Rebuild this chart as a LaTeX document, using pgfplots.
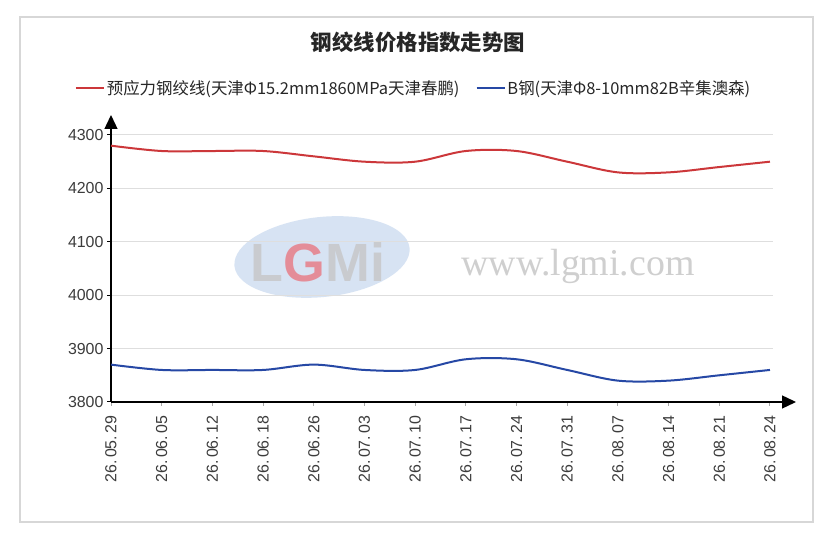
\documentclass[border=0pt]{standalone}
\usepackage{fontspec}
\setmainfont{Liberation Sans}
\newfontfamily\cjk{Noto Sans CJK SC}
\newfontfamily\wmfont{Liberation Serif}
\usepackage{pgfplots}
\pgfplotsset{compat=1.18}
\usetikzlibrary{arrows.meta}
\definecolor{redline}{RGB}{204,55,58}
\definecolor{blueline}{RGB}{38,72,165}
\definecolor{gridc}{RGB}{222,222,222}
\definecolor{tickc}{RGB}{60,60,60}
\definecolor{framec}{RGB}{215,215,215}
\definecolor{lblue}{RGB}{176,200,232}
\definecolor{lpink}{RGB}{232,120,130}
\newcommand{\dk}{\kern2.5bp}
\begin{document}
\begin{tikzpicture}[x=1bp,y=1bp]
\path[use as bounding box, fill=white] (0,0) rectangle (831,536);
\draw[framec, line width=1.2bp] (20,14) rectangle (813,519);
% watermark
\begin{scope}[opacity=0.5]
\fill[lblue, rotate around={6:(322,279)}] (322,279) ellipse [x radius=88, y radius=40];
\end{scope}
\node[font=\fontsize{54}{54}\selectfont\bfseries, text=gray!45, opacity=0.8] at (318,274) {L\textcolor{lpink}{G}Mi};
\node[font=\wmfont\fontsize{38}{38}\selectfont, text=gray!38] at (578,270) {www.lgmi.com};
% title
\node[font=\cjk\bfseries\fontsize{21.5}{21.5}\selectfont, text=black!85] at (418,494) {钢绞线价格指数走势图};
\begin{axis}[
  at={(111bp,134bp)}, anchor=south west,
  scale only axis, width=662bp, height=267bp,
  xmin=0, xmax=13.06, ymin=3800, ymax=4300,
  axis lines=left,
  axis line style={black, line width=1.3bp},
  x axis line style={-{Triangle[length=14bp,width=13bp]}, shorten >=-23bp},
  y axis line style={-{Triangle[length=14bp,width=13bp]}, shorten >=-20bp},
  xtick={0,...,13},
  xticklabels={26.\dk05.\dk29,26.\dk06.\dk05,26.\dk06.\dk12,26.\dk06.\dk18,26.\dk06.\dk26,26.\dk07.\dk03,26.\dk07.\dk10,26.\dk07.\dk17,26.\dk07.\dk24,26.\dk07.\dk31,26.\dk08.\dk07,26.\dk08.\dk14,26.\dk08.\dk21,26.\dk08.\dk24},
  ytick={3800,3900,4000,4100,4200,4300},
  ymajorgrids, grid style={gridc, line width=1bp},
  tick align=outside, major tick length=4bp,
  y tick style={black, line width=1bp},
  x tick style={gray!70, line width=1bp},
  xticklabel shift=6bp,
  xticklabel style={rotate=90, anchor=east, font=\fontsize{16}{16}\selectfont, text=tickc},
  yticklabel style={font=\fontsize{16}{16}\selectfont, text=tickc},
  /pgf/number format/assume math mode=true,
  /pgf/number format/1000 sep={},
  legend columns=2,
  legend style={at={(0.457,1.176)}, anchor=center, draw=none, fill=none,
    font=\cjk\fontsize{16.5}{16.5}\selectfont, text=black!85,
    /tikz/every even column/.append style={column sep=14bp}},
  legend image code/.code={\draw[#1, line width=2bp] (0bp,0bp) -- (28bp,0bp);},
  clip=false,
]
\addplot[redline, line width=2bp, smooth, tension=0.55] coordinates {
(0,4280) (1,4270) (2,4270) (3,4270) (4,4260) (5,4250) (6,4250) (7,4270) (8,4270) (9,4250) (10,4230) (11,4230) (12,4240) (13,4250)};
\addlegendentry{预应力钢绞线(天津Φ15.2mm1860MPa天津春鹏)}
\addplot[blueline, line width=2bp, smooth, tension=0.55] coordinates {
(0,3870) (1,3860) (2,3860) (3,3860) (4,3870) (5,3860) (6,3860) (7,3880) (8,3880) (9,3860) (10,3840) (11,3840) (12,3850) (13,3860)};
\addlegendentry{B钢(天津Φ8-10mm82B辛集澳森)}
\end{axis}
\end{tikzpicture}
\end{document}
